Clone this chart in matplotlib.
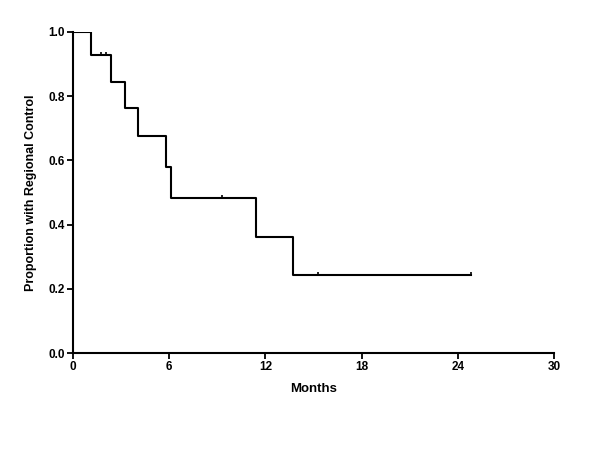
import matplotlib
matplotlib.use("Agg")
import matplotlib.pyplot as plt

plt.rcParams['font.family'] = ['Liberation Sans', 'DejaVu Sans']

# Kaplan-Meier step data (months, proportion)
event_times = [0.0, 1.12, 2.37, 3.24, 4.05, 5.78, 6.09, 11.4, 13.7]
surv_vals = [1.0, 0.929, 0.845, 0.762, 0.676, 0.580, 0.483, 0.362, 0.243]
end_time = 24.8

# censored observations
cens_times = [1.75, 2.06, 9.28, 15.3, 24.8]
cens_vals = [0.929, 0.929, 0.483, 0.243, 0.243]

xticks = [0, 6, 12, 18, 24, 30]
yticks = [0.0, 0.2, 0.4, 0.6, 0.8, 1.0]

fig = plt.figure(figsize=(6.0, 4.55), dpi=100)
ax = fig.add_axes([0.1217, 0.224, 0.8016, 0.706])

xs = event_times + [end_time]
ys = surv_vals + [surv_vals[-1]]
ax.step(xs, ys, where='post', color='black', linewidth=1.5)

# upward censor ticks
ax.plot(cens_times, cens_vals, linestyle='none', color='black',
        marker=[(0, 0), (0, 1)], markersize=5, markeredgewidth=1.2)

ax.set_xlim(0, 30)
ax.set_ylim(0, 1.0)
ax.set_xticks(xticks)
ax.set_yticks(yticks)
ax.set_xticklabels([str(t) for t in xticks], fontweight='bold', fontsize=8.5)
ax.set_yticklabels([f"{t:.1f}" for t in yticks], fontweight='bold', fontsize=8.5)

for s in ['top', 'right']:
    ax.spines[s].set_visible(False)
for s in ['left', 'bottom']:
    ax.spines[s].set_linewidth(1.5)
ax.tick_params(direction='out', length=4, width=1.3, pad=2)

ax.set_xlabel("Months", fontweight='bold', fontsize=9.5, labelpad=7)
ax.set_ylabel("Proportion with Regional Control", fontweight='bold', fontsize=9, labelpad=8)

fig.savefig("out.png", dpi=100)
